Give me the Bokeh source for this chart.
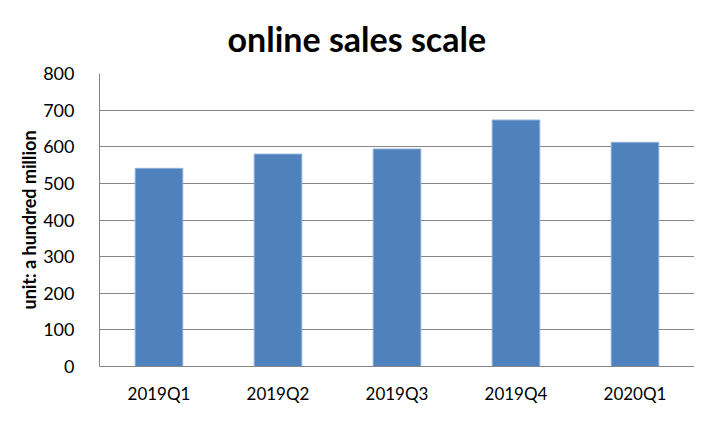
from bokeh.plotting import figure
from bokeh.models import Range1d, FixedTicker
from bokeh.embed import file_html
from bokeh.resources import INLINE

quarters = ["2019Q1", "2019Q2", "2019Q3", "2019Q4", "2020Q1"]
sales = [541, 580, 594, 673, 612]
y_ticks = [0, 100, 200, 300, 400, 500, 600, 700, 800]

p = figure(x_range=quarters, y_range=Range1d(0, 800), width=694, height=406,
           output_backend="svg", toolbar_location=None,
           title="online sales scale",
           min_border_left=99, min_border_right=0, min_border_bottom=36, min_border_top=70)

p.vbar(x=quarters, top=sales, width=0.4, fill_color="#4F81BD", line_color="#8FB0DA", line_width=1)

p.title.align = "left"
p.title.text_font = "Lato"
p.title.text_font_size = "34px"
p.title.text_font_style = "bold"
p.title.text_color = "#000000"
p.title.offset = 128
p.title.standoff = 30

p.yaxis.ticker = FixedTicker(ticks=y_ticks)
p.yaxis.axis_label = "unit: a hundred million"
p.yaxis.axis_label_text_font = "Lato"
p.yaxis.axis_label_text_font_size = "18px"
p.yaxis.axis_label_text_font_style = "bold"
p.yaxis.axis_label_text_color = "#000000"
p.yaxis.axis_label_standoff = 0
for ax in (p.xaxis, p.yaxis):
    ax.major_label_text_font = "Lato"
    ax.major_label_text_font_size = "17px"
    ax.major_label_text_color = "#000000"
    ax.axis_line_color = "#868686"
    ax.major_tick_line_color = None
    ax.minor_tick_line_color = None
p.yaxis.major_label_text_font_size = "18px"
p.yaxis.major_label_standoff = 19
p.xaxis.major_label_standoff = 10

p.xgrid.grid_line_color = None
p.ygrid.grid_line_color = "#868686"
p.ygrid.ticker = FixedTicker(ticks=y_ticks)
p.outline_line_color = None
p.x_range.range_padding = 0

open("out.html", "w").write(file_html(p, INLINE))
